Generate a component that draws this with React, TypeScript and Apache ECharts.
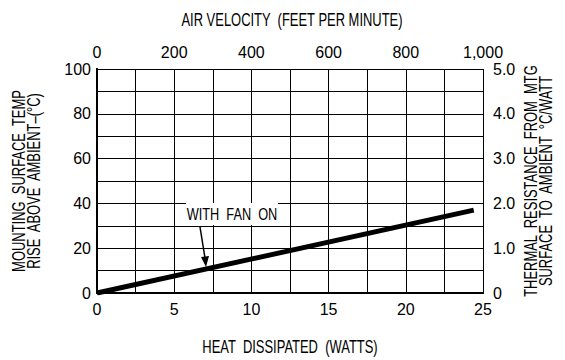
import React, { useEffect, useRef } from "react";
import * as echarts from "echarts";

const heatWatts = [0, 24.4];
const tempRise = [0, 37];
const FONT = "'Liberation Sans', sans-serif";

export default function App() {
  const ref = useRef<HTMLDivElement>(null);
  useEffect(() => {
    const chart = echarts.init(ref.current!, undefined, { renderer: "svg" });
    const axisLine = { show: true, lineStyle: { color: "#000", width: 2 } };
    const split = { show: true, lineStyle: { color: "#000", width: 1 } };
    const lbl = { color: "#000", fontFamily: FONT, fontSize: 16 };
    const title = (text: string, x: number, y: number, rot: number) => ({
      type: "text", x, y, rotation: rot, scaleX: 0.72, scaleY: 1,
      style: { text, font: `18px ${FONT}`, fill: "#000", align: "center", verticalAlign: "middle", lineHeight: 15 },
    });
    chart.setOption({
      animation: false,
      backgroundColor: "#fff",
      grid: { left: 89, right: 82, top: 61, bottom: 67, containLabel: false },
      xAxis: [
        {
          type: "value", position: "bottom", min: 0, max: 25, interval: 5,
          axisLine, axisTick: { show: false }, splitLine: { show: false },
          axisLabel: { ...lbl, margin: 8 },
        },
        {
          type: "value", position: "top", min: 0, max: 1000, interval: 100,
          axisLine, axisTick: { show: false }, splitLine: split,
          axisLabel: {
            ...lbl, margin: 9,
            formatter: (v: number) => (v % 200 === 0 ? (v === 1000 ? "1,000" : String(v)) : ""),
          },
        },
      ],
      yAxis: [
        {
          type: "value", position: "left", min: 0, max: 100, interval: 20,
          axisLine, axisTick: { show: false }, splitLine: { show: false },
          axisLabel: { ...lbl, margin: 6 },
        },
        {
          type: "value", position: "right", min: 0, max: 5, interval: 0.5,
          axisLine, axisTick: { show: false }, splitLine: split,
          axisLabel: {
            ...lbl, margin: 10,
            formatter: (v: number) => (Math.abs(v % 1) < 1e-9 ? (v === 0 ? "0" : v.toFixed(1)) : ""),
          },
        },
      ],
      series: [
        {
          type: "line", xAxisIndex: 0, yAxisIndex: 0, symbol: "none",
          lineStyle: { color: "#000", width: 5 },
          data: heatWatts.map((x, i) => [x, tempRise[i]]),
        },
      ],
      graphic: [
        title("AIR VELOCITY  (FEET PER MINUTE)", 284, 12, 0),
        title("HEAT  DISSIPATED  (WATTS)", 282, 339, 0),
        title("MOUNTING  SURFACE  TEMP\nRISE  ABOVE  AMBIENT–(°C)", 18, 173, Math.PI / 2),
        title("THERMAL  RESISTANCE  FROM  MTG\nSURFACE  TO  AMBIENT  °C/WATT", 530, 173, Math.PI / 2),
        {
          type: "rect", shape: { x: 178, y: 195, width: 92, height: 22 }, style: { fill: "#fff" }, z: 100,
        },
        {
          type: "text", x: 224, y: 206, z: 101, scaleX: 0.75,
          style: { text: "WITH  FAN  ON", font: `17px ${FONT}`, fill: "#000", align: "center", verticalAlign: "middle" },
        },
        { type: "line", shape: { x1: 192, y1: 219, x2: 197, y2: 250 }, style: { stroke: "#000", lineWidth: 1.5 }, z: 101 },
        { type: "polygon", shape: { points: [[193, 249], [201, 248], [198, 259]] }, style: { fill: "#000" }, z: 101 },
      ],
    });
    return () => chart.dispose();
  }, []);
  return <div ref={ref} style={{ width: 557, height: 352 }} />;
}
